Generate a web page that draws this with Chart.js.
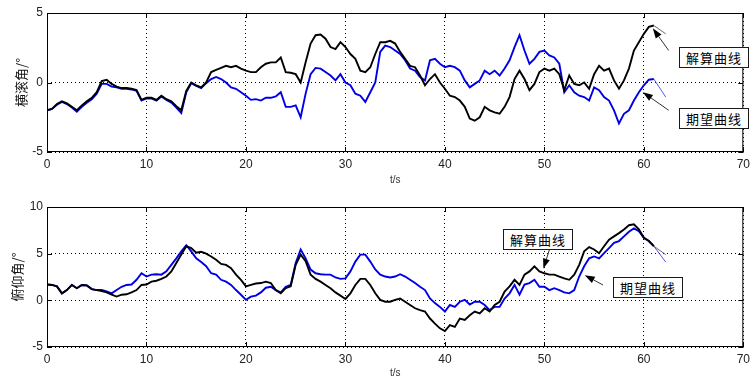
<!DOCTYPE html>
<html>
<head>
<meta charset="utf-8">
<script src="https://cdn.jsdelivr.net/npm/chart.js@4.4.1/dist/chart.umd.min.js"></script>
<style>
  html,body{margin:0;padding:0;background:#fff;}
  body{width:755px;height:379px;position:relative;overflow:hidden;}
  canvas{position:absolute;left:0;}
  #c1{top:0;}
  #c2{top:190px;}
  .note{position:absolute;z-index:2;background:#fff;border:1px solid #1a1a1a;box-sizing:border-box;
        width:70px;height:21px;font-family:"Noto Sans CJK SC","Noto Sans",sans-serif;font-size:13px;
        letter-spacing:1px;line-height:19px;text-align:center;color:#000;white-space:nowrap;}
</style>
</head>
<body>
<canvas id="c1" width="755" height="190"></canvas>
<canvas id="c2" width="755" height="189"></canvas>
<div class="note" style="left:679px;top:47px;">解算曲线</div>
<div class="note" style="left:679px;top:108px;">期望曲线</div>
<div class="note" style="left:503px;top:229px;">解算曲线</div>
<div class="note" style="left:613px;top:277px;">期望曲线</div>
<script>
// ---------------- data ----------------
const STEP = 0.5;               // sampling step of the read-off values (s)
const X_TICKS = [0, 10, 20, 30, 40, 50, 60, 70];
const ROLL_TICKS = [-5, 0, 5];
const PITCH_TICKS = [-5, 0, 5, 10];

// 横滚角 (roll) – solved curve (black)
const rollSolved = [
 -2.0,-1.9,-1.55,-1.35,-1.5,-1.75,-2.0,-1.65,-1.35,-1.1,
 -0.7,0.1,0.2,-0.1,-0.3,-0.4,-0.4,-0.45,-0.55,-1.25,
 -1.1,-1.1,-1.25,-0.95,-1.2,-1.35,-1.7,-2.0,-0.6,0.0,
 -0.2,-0.35,0.0,0.75,0.9,1.05,1.2,1.1,1.2,1.0,
 0.85,0.75,0.75,1.1,1.35,1.45,1.45,1.8,0.75,0.7,
 0.6,0.0,1.45,2.8,3.4,3.45,3.15,2.55,2.4,2.9,
 2.55,2.05,1.7,0.85,0.75,1.1,2.05,2.9,2.9,3.0,
 2.8,2.2,1.7,1.2,1.1,0.5,-0.2,0.25,0.6,0.0,
 -0.45,-0.95,-1.05,-1.3,-1.75,-2.6,-2.75,-2.5,-1.75,-2.0,
 -2.15,-2.25,-1.75,-1.05,0.25,0.85,0.25,-0.55,-0.1,0.75,
 1.0,0.85,1.0,0.6,-0.55,0.5,-0.1,-0.2,0.0,-0.45,
 0.6,1.2,0.85,1.0,0.15,-0.45,0.15,1.0,2.3,2.9,
 3.5,4.0,4.1
];
// 横滚角 (roll) – expected curve (blue)
const rollExpected = [
 -2.0,-1.9,-1.6,-1.4,-1.55,-1.8,-2.1,-1.75,-1.45,-1.2,
 -0.8,-0.1,-0.1,-0.3,-0.35,-0.45,-0.45,-0.5,-0.6,-1.3,
 -1.15,-1.15,-1.3,-1.0,-1.25,-1.45,-1.8,-2.2,-0.7,-0.05,
 -0.25,-0.4,-0.05,0.25,0.4,0.25,0.0,-0.35,-0.45,-0.7,
 -0.95,-1.25,-1.2,-1.3,-1.1,-1.1,-1.0,-0.7,-1.75,-1.75,
 -1.65,-2.5,-0.8,0.6,1.05,1.0,0.75,0.5,0.15,0.6,
 0.0,-0.2,-0.8,-0.95,-1.4,-0.7,0.0,2.2,2.65,2.55,
 2.3,2.05,1.6,1.0,0.85,0.4,0.15,1.6,1.7,1.35,
 1.1,1.2,1.1,0.85,0.15,-0.35,-0.1,0.15,0.85,0.6,
 0.85,0.5,1.0,1.6,2.55,3.4,2.3,1.35,1.7,2.2,
 2.3,1.95,1.8,1.35,-0.7,-0.2,-0.7,-0.95,-1.05,-1.3,
 -0.35,-0.55,-1.05,-1.3,-2.0,-2.95,-2.25,-2.0,-1.3,-0.7,
 -0.2,0.2,0.25
];
// 俯仰角 (pitch) – solved curve (black)
const pitchSolved = [
 1.7,1.65,1.5,0.75,1.1,1.65,1.3,1.65,1.6,1.2,
 1.1,1.0,0.85,0.6,0.4,0.6,0.65,0.85,1.1,1.65,
 1.7,2.0,2.1,2.3,2.55,3.1,4.0,4.9,5.8,5.6,
 5.1,5.2,5.0,4.7,4.35,3.9,3.8,3.45,2.75,2.2,
 1.5,1.65,1.8,1.85,2.0,1.85,1.1,0.75,1.3,1.5,
 3.8,4.9,4.2,2.75,2.3,2.0,1.65,1.3,0.85,0.5,
 0.15,0.75,1.65,2.3,2.3,1.65,0.75,0.05,-0.15,-0.15,
 0.05,0.2,-0.15,-0.5,-0.85,-1.05,-1.2,-1.95,-2.5,-3.0,
 -3.3,-2.65,-2.85,-1.95,-2.1,-1.6,-1.2,-1.4,-0.85,-1.2,
 -0.5,-0.15,0.95,1.5,2.2,1.65,2.75,3.1,3.65,3.1,
 2.9,2.75,2.75,2.55,2.35,2.2,2.75,3.8,5.25,5.7,
 5.45,5.05,5.8,6.5,6.85,7.2,7.6,8.05,8.15,7.6,
 6.7,6.35,5.8
];
// 俯仰角 (pitch) – expected curve (blue)
const pitchExpected = [
 1.7,1.65,1.5,0.75,1.1,1.65,1.3,1.65,1.6,1.2,
 1.1,1.1,0.95,0.75,1.1,1.45,1.65,1.7,2.2,2.9,
 2.55,2.75,2.8,2.75,3.1,3.8,4.5,5.25,5.9,5.25,
 4.5,4.1,3.65,2.9,2.75,2.2,2.0,1.65,1.1,0.6,
 0.05,0.4,0.5,0.85,1.35,1.45,1.1,0.85,1.45,1.65,
 4.0,5.45,4.5,3.3,2.9,2.8,2.75,2.75,2.45,2.3,
 2.35,3.1,4.15,4.9,4.9,4.15,3.3,2.75,2.55,2.45,
 2.55,2.8,2.55,2.2,1.85,1.45,1.1,0.2,-0.3,-0.7,
 -1.2,-0.5,-0.7,-0.15,0.05,-0.45,-0.15,-0.15,-0.5,-1.05,
 -0.7,-0.7,0.2,0.75,1.65,0.6,1.7,1.85,2.2,1.45,
 1.45,1.1,1.3,1.1,0.85,0.75,1.1,2.55,3.65,4.5,
 4.7,4.5,5.05,5.6,6.15,6.35,6.85,7.35,7.7,7.4,
 6.7,6.35,5.8
];
// thin trailing segments after the last sample
const TAIL_T = [61, 62.2];
const rollSolvedTail = [4.1, 3.5];
const rollExpectedTail = [0.25, -1.05];
const pitchSolvedTail = [5.8, 4.9];
const pitchExpectedTail = [5.8, 4.1];

// annotation arrows: tail -> tip, in data coordinates
const ROLL_ARROWS = [
  {tail: [62.5, 2.3], tip: [60.9, 3.9]},
  {tail: [62.5, -2.0], tip: [59.9, -0.7]}
];
const PITCH_ARROWS = [
  {tail: [50.5, 5.4], tip: [49.9, 3.4]},
  {tail: [55.9, 1.64], tip: [54.06, 2.7]}
];

// ---------------- helpers ----------------
const pts = (vals, t0, dt) => vals.map((v, i) => ({x: t0 + i * dt, y: v}));
const pairs = (ts, vals) => vals.map((v, i) => ({x: ts[i], y: v}));

const framePlugin = {
  id: 'frame',
  afterDatasetsDraw(chart, args, opts) {
    const {ctx, chartArea: a, scales} = chart;
    ctx.save();
    ctx.strokeStyle = '#000';
    ctx.lineWidth = 1;
    ctx.strokeRect(a.left + 0.5, a.top + 0.5, a.right - a.left - 1, a.bottom - a.top - 1);
    ctx.beginPath();
    const tl = 5;
    scales.x.ticks.forEach(t => {
      const px = Math.round(scales.x.getPixelForValue(t.value)) + 0.5;
      ctx.moveTo(px, a.bottom); ctx.lineTo(px, a.bottom - tl);
      ctx.moveTo(px, a.top); ctx.lineTo(px, a.top + tl);
    });
    scales.y.ticks.forEach(t => {
      const py = Math.round(scales.y.getPixelForValue(t.value)) + 0.5;
      ctx.moveTo(a.left, py); ctx.lineTo(a.left + tl, py);
      ctx.moveTo(a.right, py); ctx.lineTo(a.right - tl, py);
    });
    ctx.stroke();
    (opts.arrows || []).forEach(ar => {
      const x1 = scales.x.getPixelForValue(ar.tail[0]);
      const y1 = scales.y.getPixelForValue(ar.tail[1]);
      const x2 = scales.x.getPixelForValue(ar.tip[0]);
      const y2 = scales.y.getPixelForValue(ar.tip[1]);
      const ang = Math.atan2(y2 - y1, x2 - x1);
      const hl = 10, hw = 3.5;
      ctx.strokeStyle = '#333';
      ctx.lineWidth = 1;
      ctx.beginPath();
      ctx.moveTo(x1, y1);
      ctx.lineTo(x2 - hl * Math.cos(ang), y2 - hl * Math.sin(ang));
      ctx.stroke();
      ctx.fillStyle = '#000';
      ctx.beginPath();
      ctx.moveTo(x2, y2);
      ctx.lineTo(x2 - hl * Math.cos(ang) + hw * Math.sin(ang), y2 - hl * Math.sin(ang) - hw * Math.cos(ang));
      ctx.lineTo(x2 - hl * Math.cos(ang) - hw * Math.sin(ang), y2 - hl * Math.sin(ang) + hw * Math.cos(ang));
      ctx.closePath();
      ctx.fill();
    });
    ctx.restore();
  }
};

const tickFont = {family: '"Liberation Sans", Arial, sans-serif', size: 12};

function makeChart(id, cfg) {
  return new Chart(document.getElementById(id), {
    type: 'line',
    data: {
      datasets: [
        {data: pts(cfg.solved, 0, STEP), borderColor: '#000', borderWidth: 1.9},
        {data: pts(cfg.expected, 0, STEP), borderColor: '#0000e6', borderWidth: 1.9},
        {data: pairs(TAIL_T, cfg.solvedTail), borderColor: '#444', borderWidth: 0.8},
        {data: pairs(TAIL_T, cfg.expectedTail), borderColor: '#2a2aff', borderWidth: 0.8}
      ]
    },
    options: {
      responsive: false,
      animation: false,
      devicePixelRatio: 1,
      parsing: false,
      elements: {point: {radius: 0}, line: {tension: 0, borderJoinStyle: 'miter'}},
      layout: {padding: {top: cfg.padTop, right: 2, left: 0, bottom: 0}},
      plugins: {legend: {display: false}, tooltip: {enabled: false}, frame: {arrows: cfg.arrows}},
      scales: {
        x: {
          type: 'linear', min: 0, max: 70,
          afterBuildTicks: s => { s.ticks = X_TICKS.map(v => ({value: v})); },
          afterFit: s => { s.height = cfg.xHeight; },
          grid: {color: '#000', lineWidth: 1, drawTicks: false},
          border: {display: false, dash: [1, 3]},
          ticks: {color: '#222', font: tickFont, padding: 5, maxRotation: 0},
          title: {display: true, text: 't/s', color: '#333',
                  font: {family: '"Liberation Sans", Arial, sans-serif', size: 10},
                  padding: {top: 0, bottom: cfg.xTitlePad}}
        },
        y: {
          type: 'linear', min: cfg.yMin, max: cfg.yMax,
          afterBuildTicks: s => { s.ticks = cfg.yTicks.map(v => ({value: v})); },
          afterFit: s => { s.width = 47; },
          grid: {color: '#000', lineWidth: 1, drawTicks: false},
          border: {display: false, dash: [1, 3]},
          ticks: {color: '#222', font: tickFont, padding: 4},
          title: {display: true, text: cfg.yTitle, color: '#111',
                  font: {family: '"Noto Sans CJK SC", sans-serif', size: 13},
                  padding: {top: cfg.yTitlePad, bottom: 0}}
        }
      }
    },
    plugins: [framePlugin]
  });
}

makeChart('c1', {
  solved: rollSolved, expected: rollExpected,
  solvedTail: rollSolvedTail, expectedTail: rollExpectedTail,
  yMin: -5, yMax: 5, yTicks: ROLL_TICKS, yTitle: '横滚角/°',
  padTop: 13, xHeight: 38, xTitlePad: 4, yTitlePad: 13, arrows: ROLL_ARROWS
});
makeChart('c2', {
  solved: pitchSolved, expected: pitchExpected,
  solvedTail: pitchSolvedTail, expectedTail: pitchExpectedTail,
  yMin: -5, yMax: 10, yTicks: PITCH_TICKS, yTitle: '俯仰角/°',
  padTop: 17, xHeight: 32, xTitlePad: 0, yTitlePad: 9, arrows: PITCH_ARROWS
});
</script>
</body>
</html>
